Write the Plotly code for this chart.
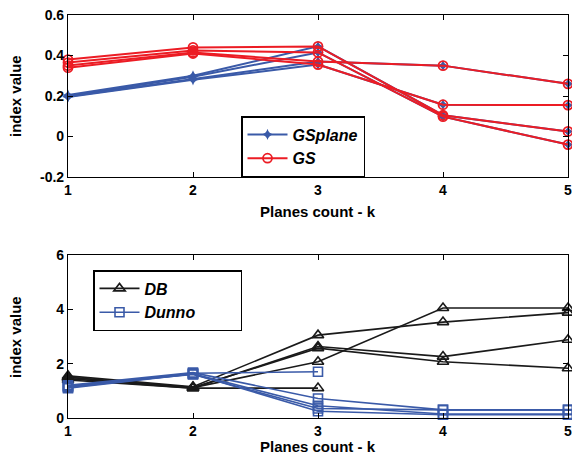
import plotly.graph_objects as go

k = [1, 2, 3, 4, 5]

# Top panel: GSplane (blue) and GS (red), several runs each
gsplane_runs = [
    [0.205, 0.300, 0.445, 0.105, 0.025],
    [0.200, 0.295, 0.415, 0.098, -0.040],
    [0.198, 0.285, 0.370, 0.350, 0.260],
    [0.195, 0.280, 0.355, 0.157, 0.155],
]
gs_runs = [
    [0.380, 0.440, 0.445, 0.105, 0.025],
    [0.365, 0.425, 0.415, 0.098, -0.040],
    [0.350, 0.415, 0.370, 0.350, 0.260],
    [0.340, 0.410, 0.355, 0.157, 0.155],
]

# Bottom panel: DB (black) and Dunno (blue)
db_runs = [
    [1.55, 1.15, 3.05, 3.53, 3.88],
    [1.50, 1.12, 2.07, 4.05, 4.05],
    [1.45, 1.10, 2.63, 2.26, 2.88],
    [1.50, 1.12, 2.57, 2.07, 1.83],
    [1.40, 1.10, 1.10, None, None],
]
dunno_runs = [
    [1.15, 1.65, 1.70, None, None],
    [1.20, 1.67, 0.72, 0.30, 0.30],
    [1.12, 1.63, 0.45, 0.15, 0.15],
    [1.18, 1.60, 0.35, 0.30, 0.30],
    [1.10, 1.62, 0.25, 0.12, 0.12],
]

top_yticks = [-0.2, 0, 0.2, 0.4, 0.6]
top_ylabels = ["-0.2", "0", "0.2", "0.4", "0.6"]
bot_yticks = [0, 2, 4, 6]
bot_ylabels = ["0", "2", "4", "6"]

RED = "#ec1c24"
BLUE = "#3a5aa8"
BLACK = "#1a1a1a"
FONT = "Liberation Sans"
PAD = "&nbsp;" * 9

fig = go.Figure()

for i, ys in enumerate(gsplane_runs):
    fig.add_trace(go.Scatter(
        x=k, y=ys, mode="lines+markers", name="<b><i>GSplane</i></b>",
        line=dict(color=BLUE, width=2), cliponaxis=False,
        marker=dict(symbol="star-diamond", size=8, color=BLUE),
        showlegend=(i == 0), legend="legend", xaxis="x", yaxis="y"))
for i, ys in enumerate(gs_runs):
    fig.add_trace(go.Scatter(
        x=k, y=ys, mode="lines+markers", name="<b><i>GS</i></b>",
        line=dict(color=RED, width=2), cliponaxis=False,
        marker=dict(symbol="circle-open", size=9, color=RED, line=dict(width=1.8)),
        showlegend=(i == 0), legend="legend", xaxis="x", yaxis="y"))

for i, ys in enumerate(db_runs):
    fig.add_trace(go.Scatter(
        x=k, y=ys, mode="lines+markers", name="<b><i>DB</i></b>",
        line=dict(color=BLACK, width=1.6), cliponaxis=False,
        marker=dict(symbol="triangle-up-open", size=10, color=BLACK, line=dict(width=1.6)),
        showlegend=(i == 0), legend="legend2", xaxis="x2", yaxis="y2"))
for i, ys in enumerate(dunno_runs):
    fig.add_trace(go.Scatter(
        x=k, y=ys, mode="lines+markers", name="<b><i>Dunno</i></b>" + PAD,
        line=dict(color=BLUE, width=1.6), cliponaxis=False,
        marker=dict(symbol="square-open", size=9, color=BLUE, line=dict(width=1.6)),
        showlegend=(i == 0), legend="legend2", xaxis="x2", yaxis="y2"))

axis_common = dict(
    showline=True, linecolor="black", linewidth=1.2, mirror="ticks",
    ticks="inside", ticklen=5, tickcolor="black", showgrid=False, zeroline=False,
    automargin=False, ticklabeloverflow="allow",
    tickfont=dict(family=FONT, size=14, color="black", weight="bold"),
)

W, H = 572, 459
L, T, B, R = 68, 15, 41, 4
PH = H - T - B


def py(pix):
    return ((H - B) - pix) / PH


def px(pix):
    return (pix - L) / (W - L - R)


fig.update_layout(
    width=W, height=H,
    margin=dict(l=L, r=R, t=T, b=B, autoexpand=False),
    paper_bgcolor="white", plot_bgcolor="white",
    xaxis=dict(domain=[0, 1], anchor="y", range=[1, 5], tickvals=k,
               ticktext=[str(v) for v in k], **axis_common),
    yaxis=dict(domain=[py(177), 1.0], anchor="x", range=[-0.2, 0.6],
               tickvals=top_yticks, ticktext=top_ylabels, **axis_common),
    xaxis2=dict(domain=[0, 1], anchor="y2", range=[1, 5], tickvals=k,
                ticktext=[str(v) for v in k], **axis_common),
    yaxis2=dict(domain=[0, py(255)], anchor="x2", range=[0, 6],
                tickvals=bot_yticks, ticktext=bot_ylabels, **axis_common),
    legend=dict(x=px(241), y=py(116), xanchor="left", yanchor="top",
                bgcolor="white", bordercolor="black", borderwidth=1.5,
                font=dict(family=FONT, size=16, color="black"),
                tracegroupgap=0, itemwidth=40),
    legend2=dict(x=px(93), y=py(270), xanchor="left", yanchor="top",
                 bgcolor="white", bordercolor="black", borderwidth=1.5,
                 font=dict(family=FONT, size=16, color="black"),
                 tracegroupgap=0, itemwidth=40),
    showlegend=True,
)

title_font = dict(family=FONT, size=15, color="black", weight="bold")

fig.add_annotation(text="Planes count - k", x=0.5, xref="paper", y=py(212), yref="paper",
                   showarrow=False, font=title_font, yanchor="middle")
fig.add_annotation(text="Planes count - k", x=0.5, xref="paper", y=py(446), yref="paper",
                   showarrow=False, font=title_font, yanchor="middle")
fig.add_annotation(text="index value", x=px(15), xref="paper", y=py(96), yref="paper",
                   showarrow=False, font=title_font, textangle=-90, xanchor="center", yanchor="middle")
fig.add_annotation(text="index value", x=px(15), xref="paper", y=py(337), yref="paper",
                   showarrow=False, font=title_font, textangle=-90, xanchor="center", yanchor="middle")

fig.write_html(
    "out.html",
    config={"displayModeBar": False},
    post_script="document.body.style.margin='0';document.body.style.overflow='hidden';",
)
